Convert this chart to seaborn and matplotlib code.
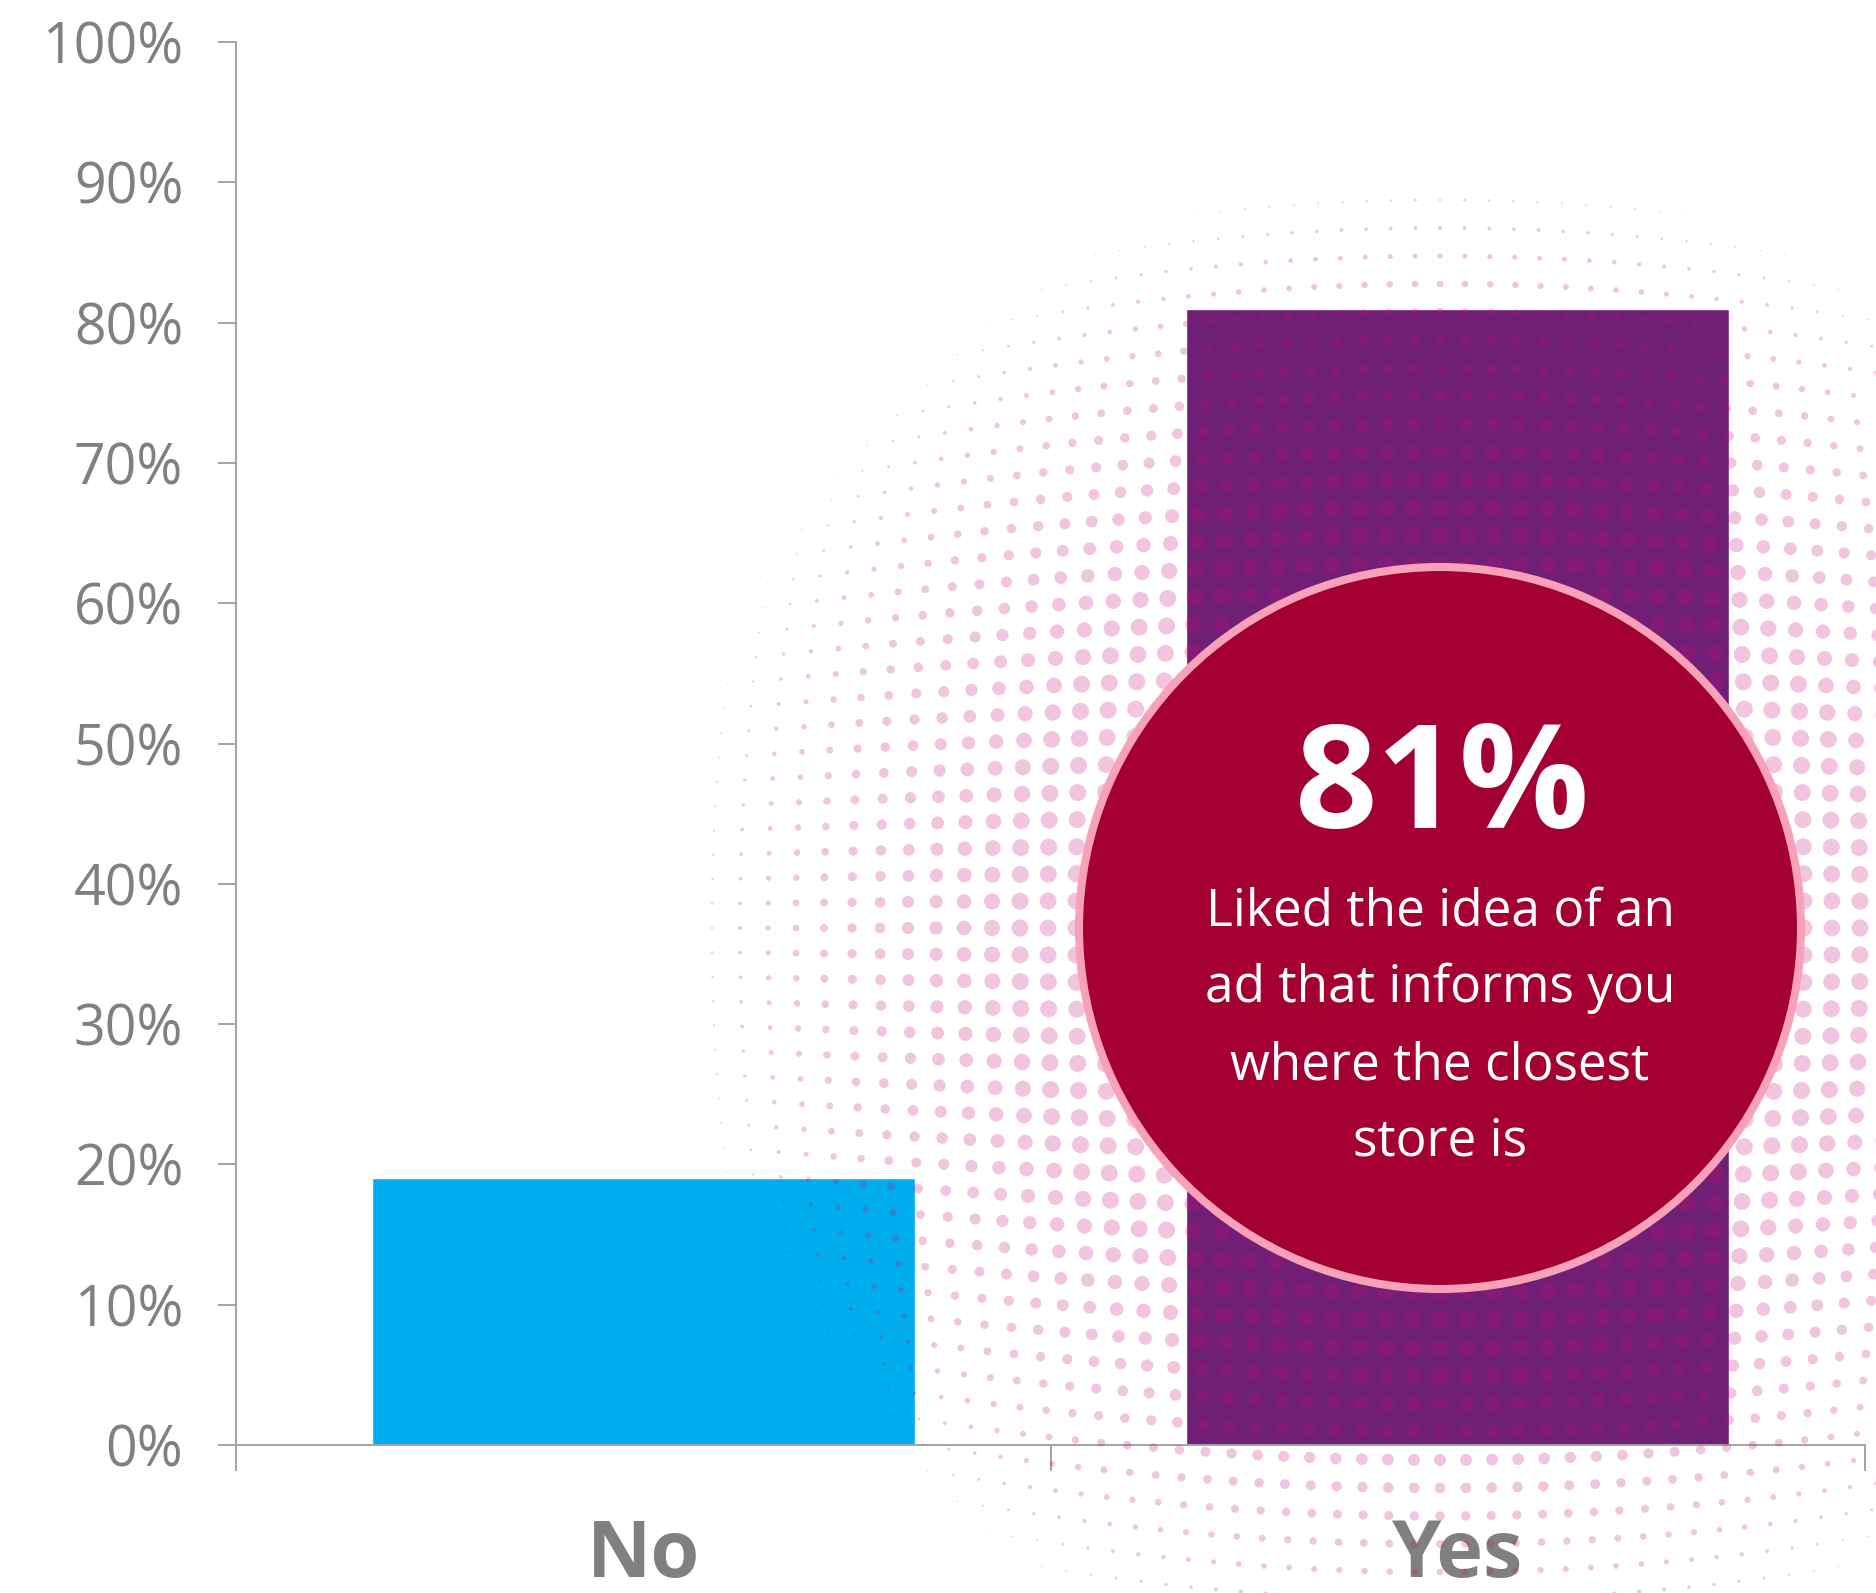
import numpy as np
import pandas as pd
import matplotlib
matplotlib.use("Agg")
import matplotlib.pyplot as plt
import seaborn as sns
from matplotlib.patches import Circle

# ---------------- data ----------------
categories = ["No", "Yes"]
values = [19, 81]
bar_colors = ["#00AEEF", "#6F1F75"]
y_ticks = list(range(0, 101, 10))
y_tick_labels = [f"{t}%" for t in y_ticks]
callout_value = "81%"
callout_lines = ["Liked the idea of an", "ad that informs you",
                 "where the closest", "store is"]

# ---------------- style ----------------
sns.set_theme(style="white")
plt.rcParams["font.family"] = ["Open Sans", "DejaVu Sans"]

W, H, DPI = 1876, 1593, 100
GREY_TXT = "#808080"
GREY_AX = "#A3A3A3"

fig = plt.figure(figsize=(W / DPI, H / DPI), dpi=DPI, facecolor="white")
ax = fig.add_axes([236 / W, 148 / H, 1629 / W, 1403 / H])
ax.set_facecolor("white")

df = pd.DataFrame({"answer": categories, "share": values})
sns.barplot(data=df, x="answer", y="share", hue="answer", palette=bar_colors,
            width=0.667, saturation=1, legend=False, ax=ax, zorder=2)

ax.set_xlim(-0.5, len(categories) - 0.5)
ax.set_ylim(0, 100)
ax.set_xlabel("")
ax.set_ylabel("")

for s in ["top", "right"]:
    ax.spines[s].set_visible(False)
for s in ["left", "bottom"]:
    ax.spines[s].set_color(GREY_AX)
    ax.spines[s].set_linewidth(1.4)

ax.set_yticks(y_ticks)
ax.set_yticklabels(y_tick_labels)
ax.tick_params(axis="y", direction="out", length=13, width=1.4, color=GREY_AX,
               pad=25, labelsize=40, labelcolor=GREY_TXT, left=True)

# category labels on major ticks (no marks), boundaries as minor tick marks
ax.set_xticks(range(len(categories)))
ax.set_xticklabels(categories, fontsize=57, fontweight="bold", color=GREY_TXT)
ax.set_xticks(np.arange(-0.5, len(categories), 1.0), minor=True)
ax.tick_params(axis="x", which="major", length=0, pad=52, bottom=True)
ax.tick_params(axis="x", which="minor", direction="out", length=19, width=1.4,
               color=GREY_AX, bottom=True)
ax.grid(False)

# ---------------- overlay: halftone dots, callout circle ----------------
ov = fig.add_axes([0, 0, 1, 1], zorder=5)
ov.set_xlim(0, W)
ov.set_ylim(H, 0)
ov.set_axis_off()

cx, cy, R = 1440, 928, 361
step = 28
gx = np.arange(-40, 41) * step
gy = np.arange(-40, 41) * step
GX, GY = np.meshgrid(gx, gy)
GX = GX.astype(float)
GY = GY.astype(float)
k = 0.12
px = cx + GX * (1 - k * (GY / 700.0) ** 2)
py = cy + GY * (1 - k * (GX / 700.0) ** 2)
d = np.hypot(px - cx, py - cy)
diam = 17 * np.clip((780 - d) / (780 - 430), 0, 1)
m = (diam > 1.0) & (px > -20) & (px < W + 20) & (py > -20) & (py < H + 20)
ov.scatter(px[m], py[m], s=(diam[m] * 0.72) ** 2, color=(200 / 255, 14 / 255, 124 / 255),
           alpha=0.24, linewidths=0, zorder=1)

circ = Circle((cx, cy), R, facecolor="#A50034", edgecolor="#F8A2B9",
              linewidth=5.8, zorder=3)
ov.add_patch(circ)

ov.text(cx + 2, 828, callout_value, ha="center", va="baseline", fontsize=104,
        fontweight="bold", color="white", zorder=4)
for i, line in enumerate(callout_lines):
    ov.text(cx, 925 + i * 77, line, ha="center", va="baseline", fontsize=37,
            color="white", zorder=4)

fig.savefig("out.png", dpi=DPI, facecolor="white")
